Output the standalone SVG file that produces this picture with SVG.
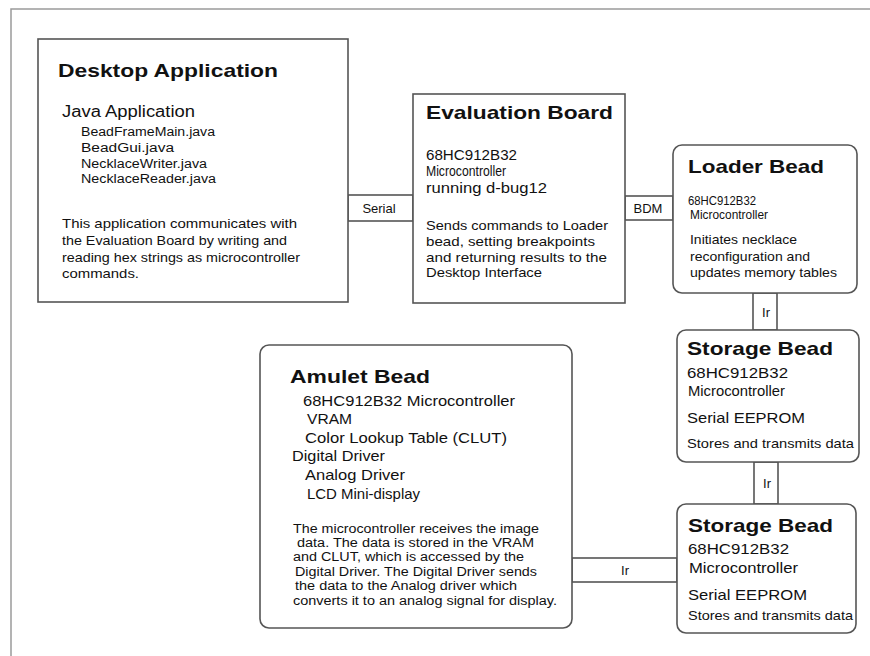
<svg xmlns="http://www.w3.org/2000/svg" width="870" height="656" viewBox="0 0 870 656">
<style>
.box{fill:#fff;stroke:#555;stroke-width:1.6}
.conn{fill:#fff;stroke:#555;stroke-width:1.6}
.frame{fill:none;stroke:#9a9a9a;stroke-width:1.5}
text{font-family:"Liberation Sans",Arial,sans-serif;fill:#111}
.t{font-weight:bold;font-size:19px}
.l{font-size:16px}
.m{font-size:15px}
.m2{font-size:13.5px}
.s{font-size:13px}
.xs{font-size:12px}
.lbl{font-size:13px;text-anchor:middle}
</style>
<rect width="870" height="656" fill="#fff"/>
<path class="frame" d="M11,656 V9 H870"/>
<g id="connectors">
  <rect class="conn" x="348" y="195" width="65" height="26"/>
  <text class="lbl" x="379" y="213">Serial</text>
  <rect class="conn" x="625" y="196" width="48" height="24"/>
  <text class="lbl" x="648" y="213">BDM</text>
  <rect class="conn" x="753" y="293" width="24" height="37"/>
  <text class="lbl" x="766" y="317">Ir</text>
  <rect class="conn" x="754" y="462" width="24" height="42"/>
  <text class="lbl" x="767" y="488">Ir</text>
  <rect class="conn" x="572" y="558" width="105" height="24"/>
  <text class="lbl" x="625" y="575">Ir</text>
</g>
<g id="desktop">
  <rect class="box" x="38" y="39" width="310" height="263"/>
  <text class="t" x="58" y="77" textLength="220" lengthAdjust="spacingAndGlyphs">Desktop Application</text>
  <text class="l" x="62" y="117" textLength="133" lengthAdjust="spacingAndGlyphs">Java Application</text>
  <text class="xs" x="81" y="136" textLength="134" lengthAdjust="spacingAndGlyphs">BeadFrameMain.java</text>
  <text class="xs" x="81" y="152" textLength="93" lengthAdjust="spacingAndGlyphs">BeadGui.java</text>
  <text class="xs" x="81" y="168" textLength="126" lengthAdjust="spacingAndGlyphs">NecklaceWriter.java</text>
  <text class="xs" x="81" y="183" textLength="135" lengthAdjust="spacingAndGlyphs">NecklaceReader.java</text>
  <text class="s" x="62" y="228" textLength="235" lengthAdjust="spacingAndGlyphs">This application communicates with</text>
  <text class="s" x="62" y="245" textLength="225" lengthAdjust="spacingAndGlyphs">the Evaluation Board by writing and</text>
  <text class="s" x="62" y="262" textLength="238" lengthAdjust="spacingAndGlyphs">reading hex strings as microcontroller</text>
  <text class="s" x="62" y="278" textLength="77" lengthAdjust="spacingAndGlyphs">commands.</text>
</g>
<g id="evaluation">
  <rect class="box" x="413" y="94" width="212" height="209"/>
  <text class="t" x="426" y="119" textLength="187" lengthAdjust="spacingAndGlyphs">Evaluation Board</text>
  <text class="m" x="426" y="160" textLength="91" lengthAdjust="spacingAndGlyphs">68HC912B32</text>
  <text class="m" x="426" y="176" textLength="80" lengthAdjust="spacingAndGlyphs">Microcontroller</text>
  <text class="m" x="426" y="193" textLength="121" lengthAdjust="spacingAndGlyphs">running d-bug12</text>
  <text class="s" x="426" y="230" textLength="182" lengthAdjust="spacingAndGlyphs">Sends commands to Loader</text>
  <text class="s" x="426" y="246" textLength="169" lengthAdjust="spacingAndGlyphs">bead, setting breakpoints</text>
  <text class="s" x="426" y="262" textLength="181" lengthAdjust="spacingAndGlyphs">and returning results to the</text>
  <text class="s" x="426" y="277" textLength="116" lengthAdjust="spacingAndGlyphs">Desktop Interface</text>
</g>
<g id="loader">
  <rect class="box" x="673" y="145" width="184" height="148" rx="9"/>
  <text class="t" x="688" y="173" textLength="136" lengthAdjust="spacingAndGlyphs">Loader Bead</text>
  <text class="m2" x="688" y="205" textLength="68" lengthAdjust="spacingAndGlyphs">68HC912B32</text>
  <text class="m2" x="690" y="219" textLength="78" lengthAdjust="spacingAndGlyphs">Microcontroller</text>
  <text class="s" x="690" y="244" textLength="107" lengthAdjust="spacingAndGlyphs">Initiates necklace</text>
  <text class="s" x="690" y="261" textLength="120" lengthAdjust="spacingAndGlyphs">reconfiguration and</text>
  <text class="s" x="690" y="277" textLength="147" lengthAdjust="spacingAndGlyphs">updates memory tables</text>
</g>
<g id="storage1">
  <rect class="box" x="677" y="330" width="182" height="132" rx="9"/>
  <text class="t" x="687" y="355" textLength="146" lengthAdjust="spacingAndGlyphs">Storage Bead</text>
  <text class="m" x="687" y="378" textLength="101" lengthAdjust="spacingAndGlyphs">68HC912B32</text>
  <text class="m" x="688" y="396" textLength="97" lengthAdjust="spacingAndGlyphs">Microcontroller</text>
  <text class="m" x="687" y="423" textLength="118" lengthAdjust="spacingAndGlyphs">Serial EEPROM</text>
  <text class="s" x="687" y="448" textLength="167" lengthAdjust="spacingAndGlyphs">Stores and transmits data</text>
</g>
<g id="storage2">
  <rect class="box" x="677" y="504" width="179" height="129" rx="9"/>
  <text class="t" x="688" y="532" textLength="145" lengthAdjust="spacingAndGlyphs">Storage Bead</text>
  <text class="m" x="688" y="554" textLength="101" lengthAdjust="spacingAndGlyphs">68HC912B32</text>
  <text class="m" x="689" y="573" textLength="109" lengthAdjust="spacingAndGlyphs">Microcontroller</text>
  <text class="m" x="688" y="600" textLength="119" lengthAdjust="spacingAndGlyphs">Serial EEPROM</text>
  <text class="s" x="688" y="620" textLength="165" lengthAdjust="spacingAndGlyphs">Stores and transmits data</text>
</g>
<g id="amulet">
  <rect class="box" x="260" y="345" width="312" height="283" rx="9"/>
  <text class="t" x="290" y="383" textLength="140" lengthAdjust="spacingAndGlyphs">Amulet Bead</text>
  <text class="m" x="303" y="406" textLength="212" lengthAdjust="spacingAndGlyphs">68HC912B32 Microcontroller</text>
  <text class="m" x="307" y="424" textLength="45" lengthAdjust="spacingAndGlyphs">VRAM</text>
  <text class="m" x="305" y="443" textLength="202" lengthAdjust="spacingAndGlyphs">Color Lookup Table (CLUT)</text>
  <text class="m" x="292" y="461" textLength="93" lengthAdjust="spacingAndGlyphs">Digital Driver</text>
  <text class="m" x="305" y="480" textLength="100" lengthAdjust="spacingAndGlyphs">Analog Driver</text>
  <text class="m" x="307" y="499" textLength="113" lengthAdjust="spacingAndGlyphs">LCD Mini-display</text>
  <text class="xs" x="293" y="533" textLength="246" lengthAdjust="spacingAndGlyphs">The microcontroller receives the image</text>
  <text class="xs" x="297" y="547" textLength="237" lengthAdjust="spacingAndGlyphs">data. The data is stored in the VRAM</text>
  <text class="xs" x="293" y="561" textLength="231" lengthAdjust="spacingAndGlyphs">and CLUT, which is accessed by the</text>
  <text class="xs" x="295" y="576" textLength="242" lengthAdjust="spacingAndGlyphs">Digital Driver. The Digital Driver sends</text>
  <text class="xs" x="295" y="590" textLength="222" lengthAdjust="spacingAndGlyphs">the data to the Analog driver which</text>
  <text class="xs" x="293" y="605" textLength="264" lengthAdjust="spacingAndGlyphs">converts it to an analog signal for display.</text>
</g>
</svg>
